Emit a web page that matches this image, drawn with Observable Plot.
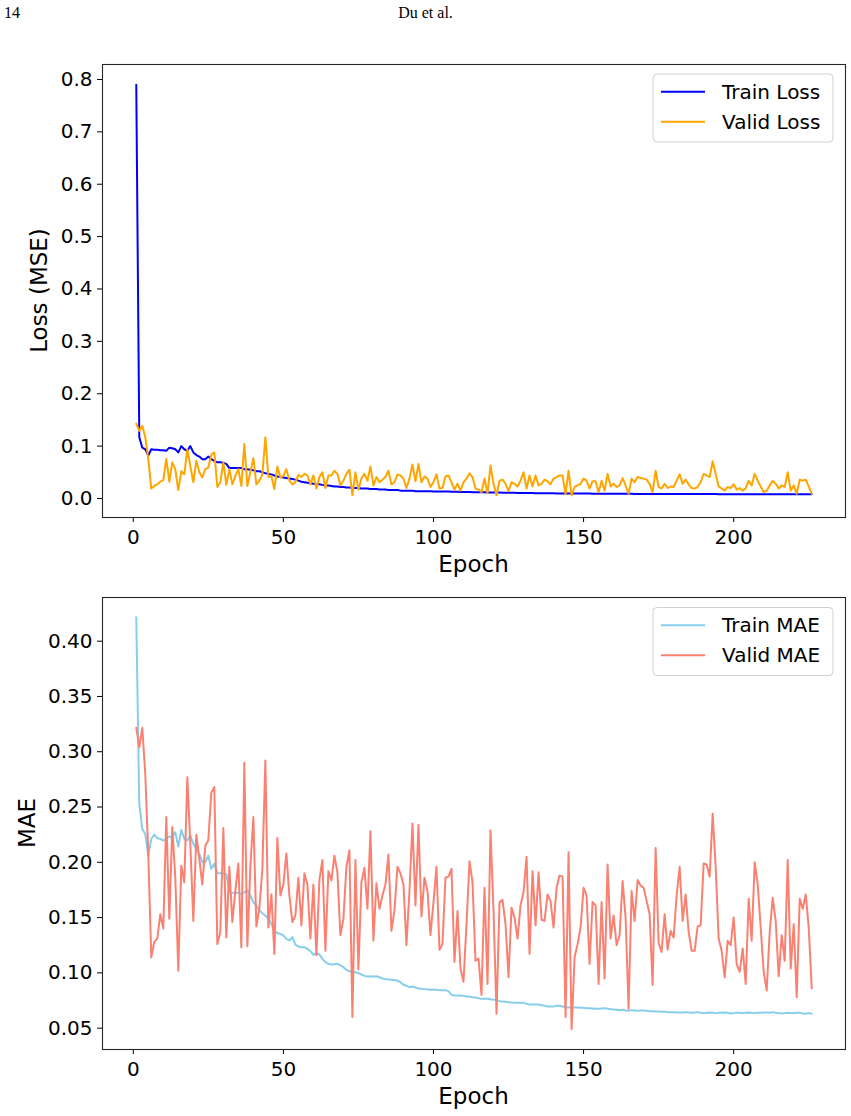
<!DOCTYPE html>
<html>
<head>
<meta charset="utf-8">
<script src="https://cdn.jsdelivr.net/npm/d3@7"></script>
<script src="https://cdn.jsdelivr.net/npm/@observablehq/plot@0.6"></script>
<style>
  html, body { margin: 0; padding: 0; background: white; }
  #page { position: relative; width: 851px; height: 1116px; overflow: hidden; background: white; }
  .hdr { position: absolute; top: 4px; z-index: 5; font-family: "Liberation Serif", "Times New Roman", serif; font-size: 16px; color: black; }
  .chart { position: absolute; left: 0; z-index: 1; }
</style>
</head>
<body>
<div id="page">
  <div id="c1" class="chart" style="top:0px;"></div>
  <div id="c2" class="chart" style="top:580px;"></div>
  <div class="hdr" style="left:4px;">14</div>
  <div class="hdr" style="left:0; width:851px; text-align:center;">Du et al.</div>
</div>
<script>
// ---------------- data ----------------
const trainLoss = [
  0.790, 0.117, 0.097, 0.094, 0.082, 0.094, 0.093, 0.093, 0.092, 0.092,
  0.091, 0.097, 0.096, 0.094, 0.088, 0.100, 0.094, 0.091, 0.100, 0.088,
  0.083, 0.080, 0.075, 0.075, 0.080, 0.075, 0.072, 0.069, 0.069, 0.068,
  0.066, 0.058, 0.058, 0.058, 0.058, 0.058, 0.056, 0.056, 0.055, 0.054,
  0.052, 0.052, 0.050, 0.048, 0.047, 0.046, 0.044, 0.042, 0.041, 0.040,
  0.039, 0.038, 0.037, 0.036, 0.034, 0.032, 0.031, 0.030, 0.029, 0.028,
  0.027, 0.027, 0.026, 0.025, 0.025, 0.024, 0.023, 0.023, 0.022, 0.022,
  0.021, 0.021, 0.020, 0.020, 0.020, 0.019, 0.019, 0.019, 0.018, 0.018,
  0.018, 0.017, 0.017, 0.017, 0.016, 0.016, 0.016, 0.016, 0.015, 0.015,
  0.015, 0.015, 0.015, 0.014, 0.014, 0.014, 0.014, 0.014, 0.014, 0.0135,
  0.0134, 0.0133, 0.0133, 0.0132, 0.0132, 0.0130, 0.0128, 0.0127, 0.0126, 0.0125,
  0.0124, 0.0122, 0.0121, 0.0120, 0.0119, 0.0118, 0.0117, 0.0116, 0.0115, 0.0114,
  0.0113, 0.0112, 0.0111, 0.0110, 0.0109, 0.0108, 0.0108, 0.0107, 0.0106, 0.0105,
  0.0104, 0.0104, 0.0103, 0.0102, 0.0101, 0.0100, 0.0100, 0.0099, 0.0098, 0.0098,
  0.0097, 0.0097, 0.0096, 0.0096, 0.0095, 0.0095, 0.0094, 0.0094, 0.0094, 0.0093,
  0.0093, 0.0093, 0.0092, 0.0092, 0.0092, 0.0091, 0.0091, 0.0091, 0.0090, 0.0090,
  0.0090, 0.0090, 0.0089, 0.0089, 0.0089, 0.0089, 0.0088, 0.0088, 0.0088, 0.0088,
  0.0088, 0.0087, 0.0087, 0.0087, 0.0087, 0.0087, 0.0086, 0.0086, 0.0086, 0.0086,
  0.0086, 0.0086, 0.0085, 0.0085, 0.0085, 0.0085, 0.0085, 0.0085, 0.0084, 0.0084,
  0.0084, 0.0084, 0.0084, 0.0084, 0.0083, 0.0083, 0.0083, 0.0083, 0.0083, 0.0083,
  0.0083, 0.0082, 0.0082, 0.0082, 0.0082, 0.0082, 0.0082, 0.0082, 0.0081, 0.0081,
  0.0081, 0.0081, 0.0081, 0.0081, 0.0081, 0.0081, 0.0080, 0.0080, 0.0080, 0.0080,
  0.0080, 0.0080, 0.0080, 0.0079, 0.0079, 0.0079
];
const validLoss = [
  0.143, 0.129, 0.139, 0.117, 0.075, 0.019, 0.024, 0.027, 0.032, 0.035,
  0.076, 0.032, 0.069, 0.056, 0.016, 0.052, 0.046, 0.094, 0.062, 0.031,
  0.072, 0.050, 0.040, 0.056, 0.059, 0.084, 0.088, 0.022, 0.031, 0.069,
  0.026, 0.056, 0.027, 0.043, 0.056, 0.024, 0.104, 0.024, 0.050, 0.077,
  0.027, 0.034, 0.046, 0.117, 0.041, 0.043, 0.018, 0.061, 0.040, 0.043,
  0.056, 0.034, 0.027, 0.031, 0.045, 0.041, 0.047, 0.044, 0.027, 0.044,
  0.019, 0.041, 0.050, 0.020, 0.044, 0.044, 0.053, 0.047, 0.025, 0.034,
  0.047, 0.055, 0.006, 0.050, 0.017, 0.038, 0.047, 0.034, 0.061, 0.025,
  0.041, 0.031, 0.036, 0.041, 0.053, 0.027, 0.031, 0.046, 0.044, 0.038,
  0.020, 0.038, 0.065, 0.033, 0.066, 0.031, 0.042, 0.038, 0.022, 0.031,
  0.046, 0.019, 0.020, 0.042, 0.044, 0.031, 0.017, 0.028, 0.015, 0.031,
  0.038, 0.048, 0.041, 0.019, 0.017, 0.012, 0.038, 0.010, 0.063, 0.028,
  0.006, 0.034, 0.036, 0.028, 0.014, 0.031, 0.028, 0.023, 0.034, 0.050,
  0.019, 0.044, 0.023, 0.044, 0.025, 0.028, 0.036, 0.033, 0.027, 0.038,
  0.041, 0.044, 0.044, 0.008, 0.053, 0.006, 0.022, 0.025, 0.028, 0.038,
  0.034, 0.019, 0.033, 0.033, 0.012, 0.034, 0.015, 0.047, 0.023, 0.028,
  0.022, 0.025, 0.039, 0.025, 0.009, 0.038, 0.031, 0.041, 0.039, 0.038,
  0.036, 0.028, 0.012, 0.053, 0.022, 0.019, 0.028, 0.020, 0.023, 0.022,
  0.034, 0.046, 0.028, 0.036, 0.027, 0.020, 0.019, 0.022, 0.031, 0.047,
  0.044, 0.041, 0.071, 0.047, 0.023, 0.019, 0.015, 0.022, 0.020, 0.027,
  0.017, 0.020, 0.015, 0.019, 0.034, 0.025, 0.047, 0.034, 0.023, 0.012,
  0.015, 0.025, 0.034, 0.028, 0.019, 0.025, 0.022, 0.050, 0.015, 0.025,
  0.009, 0.036, 0.034, 0.036, 0.023, 0.009
];
const trainMAE = [
  0.4216, 0.2528, 0.2302, 0.2257, 0.2061, 0.2212, 0.2251, 0.2218, 0.2212, 0.2197,
  0.2212, 0.2233, 0.2227, 0.2272, 0.2143, 0.2293, 0.2212, 0.2197, 0.2242, 0.2167,
  0.2121, 0.2076, 0.2001, 0.2001, 0.2061, 0.1941, 0.1986, 0.1901, 0.1901, 0.1901,
  0.1895, 0.1730, 0.1724, 0.1724, 0.1724, 0.1715, 0.1730, 0.1745, 0.1700, 0.1639,
  0.1609, 0.1564, 0.1540, 0.1519, 0.1489, 0.1443, 0.1383, 0.1359, 0.1353, 0.1338,
  0.1308, 0.1293, 0.1323, 0.1256, 0.1238, 0.1232, 0.1232, 0.1217, 0.1196, 0.1163,
  0.1178, 0.1166, 0.1127, 0.1097, 0.1082, 0.1076, 0.1079, 0.1082, 0.1067, 0.1052,
  0.1027, 0.1015, 0.1006, 0.1006, 0.0997, 0.0985, 0.0973, 0.0967, 0.0967, 0.0967,
  0.0970, 0.0961, 0.0949, 0.0943, 0.0940, 0.0937, 0.0934, 0.0931, 0.0916, 0.0892,
  0.0883, 0.0871, 0.0877, 0.0868, 0.0859, 0.0856, 0.0853, 0.0850, 0.0847, 0.0847,
  0.0847, 0.0844, 0.0844, 0.0844, 0.0835, 0.0801, 0.0795, 0.0795, 0.0795, 0.0792,
  0.0786, 0.0786, 0.0780, 0.0777, 0.0771, 0.0765, 0.0765, 0.0765, 0.0762, 0.0756,
  0.0756, 0.0744, 0.0741, 0.0738, 0.0735, 0.0732, 0.0729, 0.0729, 0.0729, 0.0729,
  0.0720, 0.0714, 0.0714, 0.0714, 0.0714, 0.0708, 0.0702, 0.0696, 0.0696, 0.0696,
  0.0702, 0.0702, 0.0696, 0.0690, 0.0687, 0.0687, 0.0687, 0.0687, 0.0684, 0.0684,
  0.0681, 0.0681, 0.0678, 0.0675, 0.0675, 0.0678, 0.0681, 0.0675, 0.0672, 0.0669,
  0.0666, 0.0663, 0.0666, 0.0660, 0.0657, 0.0663, 0.0660, 0.0657, 0.0660, 0.0660,
  0.0657, 0.0654, 0.0654, 0.0651, 0.0651, 0.0648, 0.0648, 0.0645, 0.0645, 0.0645,
  0.0642, 0.0642, 0.0642, 0.0645, 0.0642, 0.0639, 0.0642, 0.0645, 0.0639, 0.0636,
  0.0639, 0.0642, 0.0639, 0.0636, 0.0639, 0.0639, 0.0642, 0.0639, 0.0633, 0.0636,
  0.0639, 0.0639, 0.0636, 0.0639, 0.0642, 0.0639, 0.0636, 0.0639, 0.0639, 0.0642,
  0.0642, 0.0639, 0.0645, 0.0639, 0.0636, 0.0633, 0.0636, 0.0639, 0.0636, 0.0636,
  0.0639, 0.0639, 0.0633, 0.0630, 0.0636, 0.0630
];
const validMAE = [
  0.3216, 0.304, 0.3216, 0.280, 0.2076, 0.114, 0.128, 0.131, 0.153, 0.140,
  0.241, 0.149, 0.232, 0.186, 0.102, 0.197, 0.182, 0.277, 0.217, 0.147,
  0.225, 0.203, 0.180, 0.215, 0.220, 0.263, 0.268, 0.126, 0.137, 0.231,
  0.132, 0.196, 0.146, 0.174, 0.199, 0.123, 0.290, 0.124, 0.196, 0.241,
  0.142, 0.158, 0.194, 0.292, 0.141, 0.171, 0.117, 0.222, 0.170, 0.180,
  0.208, 0.170, 0.146, 0.152, 0.186, 0.143, 0.190, 0.180, 0.131, 0.180,
  0.116, 0.184, 0.202, 0.120, 0.192, 0.1835, 0.206, 0.191, 0.134, 0.149,
  0.196, 0.211, 0.060, 0.202, 0.103, 0.182, 0.195, 0.158, 0.228, 0.129,
  0.181, 0.158, 0.170, 0.180, 0.207, 0.138, 0.156, 0.196, 0.190, 0.180,
  0.125, 0.174, 0.235, 0.161, 0.234, 0.151, 0.186, 0.174, 0.134, 0.164,
  0.196, 0.121, 0.126, 0.186, 0.187, 0.194, 0.110, 0.156, 0.104, 0.092,
  0.144, 0.201, 0.182, 0.111, 0.113, 0.080, 0.177, 0.090, 0.229, 0.156,
  0.063, 0.164, 0.166, 0.144, 0.096, 0.159, 0.150, 0.131, 0.161, 0.173,
  0.205, 0.117, 0.192, 0.143, 0.191, 0.148, 0.147, 0.171, 0.165, 0.141,
  0.177, 0.188, 0.187, 0.060, 0.209, 0.049, 0.114, 0.126, 0.141, 0.177,
  0.170, 0.108, 0.164, 0.161, 0.090, 0.164, 0.095, 0.198, 0.131, 0.152,
  0.125, 0.134, 0.183, 0.150, 0.0675, 0.174, 0.147, 0.184, 0.179, 0.177,
  0.165, 0.153, 0.089, 0.213, 0.127, 0.119, 0.153, 0.121, 0.138, 0.132,
  0.170, 0.196, 0.147, 0.171, 0.137, 0.120, 0.120, 0.142, 0.143, 0.199,
  0.198, 0.187, 0.244, 0.196, 0.131, 0.120, 0.096, 0.129, 0.125, 0.150,
  0.108, 0.101, 0.122, 0.090, 0.167, 0.129, 0.200, 0.180, 0.141, 0.101,
  0.084, 0.137, 0.168, 0.147, 0.097, 0.134, 0.111, 0.202, 0.104, 0.144,
  0.078, 0.167, 0.158, 0.171, 0.141, 0.086
];
const xTicks = [0, 50, 100, 150, 200];
const lossTicks = [0.0, 0.1, 0.2, 0.3, 0.4, 0.5, 0.6, 0.7, 0.8];
const maeTicks = [0.05, 0.10, 0.15, 0.20, 0.25, 0.30, 0.35, 0.40];
const lossLabels = ["Train Loss", "Valid Loss"];
const maeLabels = ["Train MAE", "Valid MAE"];

// ---------------- chart ----------------
const FONT = "DejaVu Sans";

function makeChart({train, valid, colors, labels, ticks, fmt, ydomain, height, mt, mb, ylabelX, xlabelY, legendTop}) {
  const data = train.map((v, i) => ({epoch: i + 1, train: v, valid: valid[i]}));
  const svg = Plot.plot({
    width: 851, height,
    marginTop: mt, marginBottom: mb, marginLeft: 102, marginRight: 6,
    style: {fontFamily: FONT, fontSize: "20px", color: "black", background: "white", overflow: "visible"},
    x: {domain: [-10.25, 237.25]},
    y: {domain: ydomain},
    marks: [
      Plot.line(data, {x: "epoch", y: "train", stroke: colors[0], strokeWidth: 2}),
      Plot.line(data, {x: "epoch", y: "valid", stroke: colors[1], strokeWidth: 2}),
      Plot.axisX({ticks: xTicks, tickSize: 5, tickPadding: 7, label: null, fontSize: 20}),
      Plot.axisY({ticks, tickFormat: d3.format(fmt), tickSize: 5, tickPadding: 5, label: null, fontSize: 20}),
      Plot.frame({stroke: "#262626", strokeWidth: 1.1})
    ]
  });
  const s = d3.select(svg);
  s.append("text").attr("x", 473.5).attr("y", xlabelY).attr("text-anchor", "middle")
    .attr("font-family", FONT).attr("font-size", 23).attr("fill", "black").text("Epoch");
  const yc = mt + (height - mt - mb) / 2;
  s.append("text").attr("transform", `translate(${ylabelX},${yc}) rotate(-90)`).attr("text-anchor", "middle")
    .attr("font-family", FONT).attr("font-size", 23).attr("fill", "black").text(labels.ylabel);
  const g = s.append("g");
  g.append("rect").attr("x", 653).attr("y", legendTop).attr("width", 180).attr("height", 68).attr("rx", 4)
    .attr("fill", "white").attr("fill-opacity", 0.8).attr("stroke", "#d0d0d0").attr("stroke-width", 1);
  labels.items.forEach((lab, i) => {
    const cy = legendTop + 17.7 + i * 30;
    g.append("line").attr("x1", 661).attr("x2", 705).attr("y1", cy).attr("y2", cy)
      .attr("stroke", colors[i]).attr("stroke-width", 2);
    g.append("text").attr("x", 722).attr("y", cy).attr("dy", "0.36em").attr("text-anchor", "start")
      .attr("font-family", FONT).attr("font-size", 20).attr("fill", "black").text(lab);
  });
  return svg;
}

document.getElementById("c1").appendChild(makeChart({
  train: trainLoss, valid: validLoss, colors: ["blue", "orange"],
  labels: {ylabel: "Loss (MSE)", items: lossLabels},
  ticks: lossTicks, fmt: ".1f", ydomain: [-0.0363, 0.8286],
  height: 580, mt: 64, mb: 63, ylabelX: 47, xlabelY: 571.7, legendTop: 74
}));
document.getElementById("c2").appendChild(makeChart({
  train: trainMAE, valid: validMAE, colors: ["skyblue", "salmon"],
  labels: {ylabel: "MAE", items: maeLabels},
  ticks: maeTicks, fmt: ".2f", ydomain: [0.0307, 0.4395],
  height: 536, mt: 17, mb: 67, ylabelX: 34.5, xlabelY: 523.7, legendTop: 27.5
}));
</script>
</body>
</html>
